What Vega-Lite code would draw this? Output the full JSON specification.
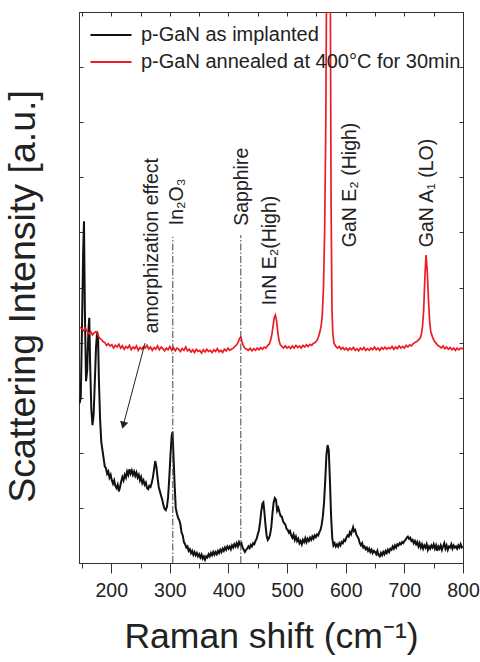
{
  "$schema": "https://vega.github.io/schema/vega-lite/v6.json",
  "width": 384,
  "height": 551,
  "autosize": {"type": "none"},
  "padding": {"left": 79, "top": 12, "right": 17, "bottom": 99},
  "background": "white",
  "config": {
    "font": "Liberation Sans",
    "view": {"stroke": "#333333", "strokeWidth": 1},
    "axis": {"grid": false, "domainColor": "#333333", "tickColor": "#333333", "labelColor": "#222222", "titleColor": "#222222", "labelFont": "Liberation Sans", "titleFont": "Liberation Sans", "titleFontWeight": "normal"}
  },
  "datasets": {
    "black": [
      {"x":146,"y":2.9},{"x":148,"y":3.0},{"x":150,"y":4.2},{"x":152,"y":5.6},{"x":153.5,"y":6.2},{"x":155,"y":4.6},{"x":157,"y":3.3},{"x":159,"y":3.5},{"x":161,"y":4.2},{"x":162.5,"y":4.45},{"x":164,"y":3.6},{"x":166,"y":2.8},{"x":168,"y":2.5},{"x":170,"y":2.7},{"x":172,"y":3.3},{"x":174,"y":3.9},{"x":176,"y":4.2},{"x":177.5,"y":4.1},{"x":179,"y":3.3},{"x":181,"y":2.6},{"x":183,"y":2.2},{"x":185,"y":2.05},{"x":187,"y":1.9},{"x":189,"y":1.75},{"x":191,"y":1.72},{"x":193,"y":1.62},{"x":195,"y":1.66},{"x":197,"y":1.55},{"x":199,"y":1.6},{"x":201,"y":1.5},{"x":203,"y":1.44},{"x":205,"y":1.5},{"x":207,"y":1.4},{"x":209,"y":1.36},{"x":211,"y":1.42},{"x":213,"y":1.3},{"x":215,"y":1.38},{"x":217,"y":1.48},{"x":219,"y":1.56},{"x":221,"y":1.5},{"x":223,"y":1.6},{"x":225,"y":1.55},{"x":227,"y":1.66},{"x":229,"y":1.6},{"x":231,"y":1.7},{"x":233,"y":1.62},{"x":235,"y":1.68},{"x":237,"y":1.6},{"x":239,"y":1.66},{"x":241,"y":1.58},{"x":243,"y":1.64},{"x":245,"y":1.55},{"x":247,"y":1.6},{"x":249,"y":1.5},{"x":251,"y":1.56},{"x":253,"y":1.45},{"x":255,"y":1.5},{"x":257,"y":1.42},{"x":259,"y":1.46},{"x":261,"y":1.36},{"x":263,"y":1.34},{"x":265,"y":1.4},{"x":267,"y":1.38},{"x":269,"y":1.45},{"x":271,"y":1.55},{"x":273,"y":1.7},{"x":275,"y":1.85},{"x":277,"y":1.75},{"x":279,"y":1.55},{"x":281,"y":1.38},{"x":283,"y":1.3},{"x":285,"y":1.22},{"x":287,"y":1.15},{"x":289,"y":1.05},{"x":291,"y":0.98},{"x":293,"y":0.96},{"x":295,"y":1.02},{"x":297,"y":1.2},{"x":299,"y":1.55},{"x":301,"y":1.95},{"x":303,"y":2.3},{"x":304.5,"y":2.38},{"x":306,"y":2.0},{"x":308,"y":1.45},{"x":310,"y":1.0},{"x":312,"y":0.9},{"x":314,"y":0.82},{"x":316,"y":0.78},{"x":318,"y":0.7},{"x":320,"y":0.55},{"x":322,"y":0.5},{"x":324,"y":0.38},{"x":326,"y":0.34},{"x":328,"y":0.28},{"x":330,"y":0.3},{"x":332,"y":0.22},{"x":334,"y":0.25},{"x":336,"y":0.18},{"x":338,"y":0.22},{"x":340,"y":0.15},{"x":342,"y":0.2},{"x":344,"y":0.14},{"x":346,"y":0.18},{"x":348,"y":0.12},{"x":350,"y":0.16},{"x":352,"y":0.1},{"x":354,"y":0.15},{"x":356,"y":0.08},{"x":358,"y":0.12},{"x":360,"y":0.06},{"x":362,"y":0.12},{"x":364,"y":0.1},{"x":366,"y":0.16},{"x":368,"y":0.12},{"x":370,"y":0.18},{"x":372,"y":0.14},{"x":374,"y":0.2},{"x":376,"y":0.15},{"x":378,"y":0.2},{"x":380,"y":0.16},{"x":382,"y":0.22},{"x":384,"y":0.18},{"x":386,"y":0.24},{"x":388,"y":0.2},{"x":390,"y":0.26},{"x":392,"y":0.22},{"x":394,"y":0.28},{"x":396,"y":0.24},{"x":398,"y":0.3},{"x":400,"y":0.26},{"x":402,"y":0.3},{"x":404,"y":0.25},{"x":406,"y":0.32},{"x":408,"y":0.28},{"x":410,"y":0.34},{"x":412,"y":0.3},{"x":414,"y":0.36},{"x":416,"y":0.3},{"x":418,"y":0.38},{"x":420,"y":0.33},{"x":422,"y":0.36},{"x":424,"y":0.28},{"x":426,"y":0.24},{"x":428,"y":0.2},{"x":430,"y":0.24},{"x":432,"y":0.26},{"x":434,"y":0.3},{"x":436,"y":0.27},{"x":438,"y":0.33},{"x":440,"y":0.3},{"x":442,"y":0.36},{"x":444,"y":0.34},{"x":446,"y":0.4},{"x":448,"y":0.44},{"x":450,"y":0.52},{"x":452,"y":0.6},{"x":454,"y":0.75},{"x":456,"y":0.95},{"x":458,"y":1.08},{"x":459.5,"y":1.1},{"x":461,"y":0.95},{"x":463,"y":0.7},{"x":465,"y":0.5},{"x":467,"y":0.42},{"x":469,"y":0.45},{"x":471,"y":0.52},{"x":473,"y":0.65},{"x":475,"y":0.9},{"x":477,"y":1.1},{"x":479,"y":1.18},{"x":481,"y":1.15},{"x":483,"y":0.95},{"x":485,"y":1.0},{"x":487,"y":0.92},{"x":489,"y":0.85},{"x":491,"y":0.84},{"x":493,"y":0.76},{"x":495,"y":0.72},{"x":497,"y":0.7},{"x":499,"y":0.62},{"x":501,"y":0.6},{"x":503,"y":0.55},{"x":505,"y":0.58},{"x":507,"y":0.5},{"x":509,"y":0.46},{"x":511,"y":0.52},{"x":513,"y":0.42},{"x":515,"y":0.48},{"x":517,"y":0.4},{"x":519,"y":0.44},{"x":521,"y":0.36},{"x":523,"y":0.4},{"x":525,"y":0.34},{"x":527,"y":0.42},{"x":529,"y":0.38},{"x":531,"y":0.45},{"x":533,"y":0.38},{"x":535,"y":0.44},{"x":537,"y":0.4},{"x":539,"y":0.46},{"x":541,"y":0.42},{"x":543,"y":0.48},{"x":545,"y":0.44},{"x":547,"y":0.5},{"x":549,"y":0.47},{"x":551,"y":0.52},{"x":553,"y":0.5},{"x":555,"y":0.56},{"x":557,"y":0.6},{"x":559,"y":0.7},{"x":561,"y":0.85},{"x":563,"y":1.1},{"x":565,"y":1.5},{"x":567,"y":1.95},{"x":569,"y":2.14},{"x":571,"y":2.05},{"x":573,"y":1.5},{"x":575,"y":0.85},{"x":577,"y":0.45},{"x":579,"y":0.32},{"x":581,"y":0.36},{"x":583,"y":0.3},{"x":585,"y":0.34},{"x":587,"y":0.3},{"x":589,"y":0.36},{"x":591,"y":0.32},{"x":593,"y":0.38},{"x":595,"y":0.36},{"x":597,"y":0.42},{"x":599,"y":0.4},{"x":601,"y":0.46},{"x":603,"y":0.5},{"x":605,"y":0.48},{"x":607,"y":0.56},{"x":609,"y":0.52},{"x":611,"y":0.6},{"x":612.5,"y":0.65},{"x":614,"y":0.58},{"x":616,"y":0.6},{"x":618,"y":0.52},{"x":620,"y":0.48},{"x":622,"y":0.44},{"x":624,"y":0.36},{"x":626,"y":0.32},{"x":628,"y":0.36},{"x":630,"y":0.28},{"x":632,"y":0.3},{"x":634,"y":0.25},{"x":636,"y":0.28},{"x":638,"y":0.22},{"x":640,"y":0.26},{"x":642,"y":0.2},{"x":644,"y":0.24},{"x":646,"y":0.18},{"x":648,"y":0.22},{"x":650,"y":0.2},{"x":652,"y":0.16},{"x":654,"y":0.22},{"x":656,"y":0.14},{"x":658,"y":0.12},{"x":660,"y":0.18},{"x":662,"y":0.14},{"x":664,"y":0.2},{"x":666,"y":0.16},{"x":668,"y":0.22},{"x":670,"y":0.18},{"x":672,"y":0.24},{"x":674,"y":0.2},{"x":676,"y":0.26},{"x":678,"y":0.24},{"x":680,"y":0.3},{"x":682,"y":0.26},{"x":684,"y":0.32},{"x":686,"y":0.28},{"x":688,"y":0.34},{"x":690,"y":0.32},{"x":692,"y":0.36},{"x":694,"y":0.34},{"x":696,"y":0.38},{"x":698,"y":0.36},{"x":700,"y":0.4},{"x":702,"y":0.42},{"x":704,"y":0.46},{"x":706,"y":0.48},{"x":708,"y":0.44},{"x":710,"y":0.46},{"x":712,"y":0.4},{"x":714,"y":0.42},{"x":716,"y":0.36},{"x":718,"y":0.4},{"x":720,"y":0.34},{"x":722,"y":0.38},{"x":724,"y":0.3},{"x":726,"y":0.36},{"x":728,"y":0.28},{"x":730,"y":0.34},{"x":732,"y":0.26},{"x":734,"y":0.32},{"x":736,"y":0.28},{"x":738,"y":0.34},{"x":740,"y":0.24},{"x":742,"y":0.3},{"x":744,"y":0.26},{"x":746,"y":0.32},{"x":748,"y":0.28},{"x":750,"y":0.34},{"x":752,"y":0.26},{"x":754,"y":0.32},{"x":756,"y":0.22},{"x":758,"y":0.3},{"x":760,"y":0.26},{"x":762,"y":0.32},{"x":764,"y":0.24},{"x":766,"y":0.3},{"x":768,"y":0.36},{"x":770,"y":0.26},{"x":772,"y":0.32},{"x":774,"y":0.24},{"x":776,"y":0.3},{"x":778,"y":0.28},{"x":780,"y":0.34},{"x":782,"y":0.26},{"x":784,"y":0.32},{"x":786,"y":0.28},{"x":788,"y":0.3},{"x":790,"y":0.26},{"x":792,"y":0.32},{"x":794,"y":0.28},{"x":796,"y":0.34},{"x":798,"y":0.28},{"x":800,"y":0.3}
    ],
    "red": [
      {"x":147,"y":4.28},{"x":150,"y":4.25},{"x":153,"y":4.22},{"x":156,"y":4.26},{"x":159,"y":4.2},{"x":162,"y":4.16},{"x":165,"y":4.2},{"x":168,"y":4.14},{"x":171,"y":4.18},{"x":174,"y":4.2},{"x":177,"y":4.15},{"x":180,"y":4.08},{"x":183,"y":4.06},{"x":186,"y":4.02},{"x":189,"y":4.0},{"x":192,"y":3.95},{"x":195,"y":3.98},{"x":198,"y":3.94},{"x":201,"y":3.96},{"x":204,"y":3.9},{"x":207,"y":3.95},{"x":210,"y":3.92},{"x":213,"y":3.97},{"x":216,"y":3.9},{"x":219,"y":3.94},{"x":222,"y":3.88},{"x":225,"y":3.93},{"x":228,"y":3.9},{"x":231,"y":3.95},{"x":234,"y":3.87},{"x":237,"y":3.92},{"x":240,"y":3.89},{"x":243,"y":3.94},{"x":246,"y":3.86},{"x":249,"y":3.91},{"x":252,"y":3.88},{"x":255,"y":3.93},{"x":258,"y":3.9},{"x":261,"y":3.95},{"x":264,"y":3.88},{"x":267,"y":3.92},{"x":270,"y":3.86},{"x":273,"y":3.91},{"x":276,"y":3.88},{"x":279,"y":3.94},{"x":282,"y":3.87},{"x":285,"y":3.92},{"x":288,"y":3.89},{"x":291,"y":3.85},{"x":294,"y":3.9},{"x":297,"y":3.87},{"x":300,"y":3.93},{"x":303,"y":3.86},{"x":306,"y":3.91},{"x":309,"y":3.85},{"x":312,"y":3.9},{"x":315,"y":3.88},{"x":318,"y":3.84},{"x":321,"y":3.89},{"x":324,"y":3.86},{"x":327,"y":3.92},{"x":330,"y":3.85},{"x":333,"y":3.88},{"x":336,"y":3.83},{"x":339,"y":3.87},{"x":342,"y":3.82},{"x":345,"y":3.88},{"x":348,"y":3.84},{"x":351,"y":3.86},{"x":354,"y":3.81},{"x":357,"y":3.87},{"x":360,"y":3.83},{"x":363,"y":3.88},{"x":366,"y":3.84},{"x":369,"y":3.86},{"x":372,"y":3.82},{"x":375,"y":3.87},{"x":378,"y":3.84},{"x":381,"y":3.89},{"x":384,"y":3.83},{"x":387,"y":3.86},{"x":390,"y":3.82},{"x":393,"y":3.88},{"x":396,"y":3.85},{"x":399,"y":3.9},{"x":402,"y":3.86},{"x":405,"y":3.88},{"x":408,"y":3.9},{"x":411,"y":3.93},{"x":414,"y":3.96},{"x":417,"y":4.02},{"x":419,"y":4.08},{"x":421,"y":4.1},{"x":423,"y":4.02},{"x":425,"y":3.95},{"x":428,"y":3.9},{"x":431,"y":3.88},{"x":434,"y":3.86},{"x":437,"y":3.9},{"x":440,"y":3.85},{"x":443,"y":3.89},{"x":446,"y":3.86},{"x":449,"y":3.9},{"x":452,"y":3.87},{"x":455,"y":3.91},{"x":458,"y":3.88},{"x":461,"y":3.92},{"x":464,"y":3.9},{"x":467,"y":3.95},{"x":470,"y":3.98},{"x":472,"y":4.05},{"x":474,"y":4.15},{"x":476,"y":4.3},{"x":478,"y":4.45},{"x":480,"y":4.5},{"x":482,"y":4.4},{"x":484,"y":4.2},{"x":486,"y":4.05},{"x":488,"y":3.97},{"x":491,"y":3.93},{"x":494,"y":3.9},{"x":497,"y":3.94},{"x":500,"y":3.9},{"x":503,"y":3.93},{"x":506,"y":3.89},{"x":509,"y":3.94},{"x":512,"y":3.9},{"x":515,"y":3.95},{"x":518,"y":3.91},{"x":521,"y":3.94},{"x":524,"y":3.9},{"x":527,"y":3.95},{"x":530,"y":3.92},{"x":533,"y":3.96},{"x":536,"y":3.93},{"x":539,"y":3.97},{"x":542,"y":3.95},{"x":545,"y":3.99},{"x":548,"y":4.0},{"x":550,"y":4.03},{"x":552,"y":4.06},{"x":554,"y":4.12},{"x":556,"y":4.2},{"x":558,"y":4.3},{"x":560,"y":4.5},{"x":562,"y":5.0},{"x":564,"y":6.0},{"x":566,"y":8.0},{"x":567.5,"y":11},{"x":569,"y":15},{"x":570.5,"y":16},{"x":572,"y":15},{"x":573.5,"y":11},{"x":575,"y":6.5},{"x":576.5,"y":4.6},{"x":578,"y":4.15},{"x":580,"y":3.99},{"x":583,"y":3.93},{"x":586,"y":3.9},{"x":589,"y":3.93},{"x":592,"y":3.88},{"x":595,"y":3.91},{"x":598,"y":3.87},{"x":601,"y":3.9},{"x":604,"y":3.86},{"x":607,"y":3.9},{"x":610,"y":3.87},{"x":613,"y":3.91},{"x":616,"y":3.86},{"x":619,"y":3.89},{"x":622,"y":3.85},{"x":625,"y":3.9},{"x":628,"y":3.87},{"x":631,"y":3.91},{"x":634,"y":3.86},{"x":637,"y":3.89},{"x":640,"y":3.86},{"x":643,"y":3.9},{"x":646,"y":3.87},{"x":649,"y":3.92},{"x":652,"y":3.87},{"x":655,"y":3.9},{"x":658,"y":3.86},{"x":661,"y":3.91},{"x":664,"y":3.88},{"x":667,"y":3.92},{"x":670,"y":3.88},{"x":673,"y":3.91},{"x":676,"y":3.89},{"x":679,"y":3.93},{"x":682,"y":3.88},{"x":685,"y":3.92},{"x":688,"y":3.89},{"x":691,"y":3.94},{"x":694,"y":3.9},{"x":697,"y":3.93},{"x":700,"y":3.9},{"x":703,"y":3.95},{"x":706,"y":3.92},{"x":709,"y":3.96},{"x":712,"y":3.94},{"x":715,"y":3.98},{"x":718,"y":4.0},{"x":721,"y":4.02},{"x":724,"y":4.05},{"x":727,"y":4.08},{"x":729,"y":4.15},{"x":731,"y":4.3},{"x":733,"y":4.6},{"x":735,"y":5.2},{"x":737,"y":5.59},{"x":739,"y":5.3},{"x":741,"y":4.8},{"x":743,"y":4.4},{"x":745,"y":4.2},{"x":748,"y":4.1},{"x":751,"y":4.03},{"x":754,"y":3.99},{"x":757,"y":3.95},{"x":760,"y":3.93},{"x":763,"y":3.9},{"x":766,"y":3.94},{"x":769,"y":3.89},{"x":772,"y":3.92},{"x":775,"y":3.88},{"x":778,"y":3.91},{"x":781,"y":3.87},{"x":784,"y":3.9},{"x":787,"y":3.86},{"x":790,"y":3.9},{"x":793,"y":3.87},{"x":796,"y":3.9},{"x":800,"y":3.89}
    ],
    "refs": [
      {"x": 305, "y": 0, "y2": 5.92},
      {"x": 421, "y": 0, "y2": 5.95}
    ],
    "labels": [
      {"x": 269, "y": 4.17, "t": "amorphization effect"},
      {"x": 312, "y": 6.13, "t": "In₂O₃"},
      {"x": 423, "y": 6.12, "t": "Sapphire"},
      {"x": 471, "y": 4.68, "t": "InN  E₂(High)"},
      {"x": 607, "y": 5.73, "t": "GaN E₂ (High)"},
      {"x": 739, "y": 5.73, "t": "GaN A₁ (LO)"}
    ],
    "arrow": [
      {"x": 257.6, "y": 3.99, "x2": 220.5, "y2": 2.5}
    ]
  },
  "layer": [
    {
      "data": {"name": "black"},
      "mark": {"type": "line", "strokeWidth": 2, "clip": true},
      "encoding": {
        "x": {"field": "x", "type": "quantitative",
          "scale": {"domain": [145, 800], "nice": false, "zero": false},
          "axis": {"orient": "bottom", "title": "Raman shift (cm⁻¹)", "titleFontSize": 35.5, "titlePadding": 20,
            "values": [150,200,250,300,350,400,450,500,550,600,650,700,750,800],
            "labelExpr": "datum.value % 100 === 0 ? datum.label : ''",
            "labelFontSize": 19.5, "labelPadding": 8, "labelFlush": false,
            "tickSize": {"condition": {"test": "datum.value % 100 === 0", "value": 10}, "value": 5}}},
        "y": {"field": "y", "type": "quantitative",
          "scale": {"domain": [0, 10], "nice": false, "zero": false},
          "axis": {"orient": "left", "title": "Scattering Intensity [a.u.]", "titleFontSize": 37.5, "titlePadding": 36, "titleY": 284,
            "labels": false, "tickSize": -4, "values": [0,1,2,3,4,5,6,7,8,9,10]}},
        "color": {"datum": "p-GaN as implanted", "type": "nominal",
          "scale": {"domain": ["p-GaN as implanted", "p-GaN annealed at 400°C for 30min"], "range": ["#111111", "#ed1c24"]},
          "legend": {"orient": "none", "legendX": 22, "legendY": 13, "title": null, "padding": 0,
            "symbolType": "M-2.5,0H2.5", "symbolSize": 270, "symbolStrokeWidth": 2,
            "labelFontSize": 20, "labelOffset": 20, "labelColor": "#222222", "rowPadding": 7, "labelLimit": 500}}
      }
    },
    {
      "data": {"name": "red"},
      "mark": {"type": "line", "strokeWidth": 1.7, "clip": true},
      "encoding": {
        "x": {"field": "x", "type": "quantitative", "axis": null},
        "y": {"field": "y", "type": "quantitative", "axis": null},
        "color": {"datum": "p-GaN annealed at 400°C for 30min", "type": "nominal"}
      }
    },
    {
      "data": {"name": "refs"},
      "mark": {"type": "rule", "color": "#444444", "strokeWidth": 1, "strokeDash": [7, 2, 1.5, 2]},
      "encoding": {
        "x": {"field": "x", "type": "quantitative",
          "axis": {"orient": "top", "title": null, "labels": false, "domain": false, "tickSize": -4,
            "values": [150,200,250,300,350,400,450,500,550,600,650,700,750,800]}},
        "y": {"field": "y", "type": "quantitative",
          "axis": {"orient": "right", "title": null, "labels": false, "domain": false, "tickSize": -4,
            "values": [0,1,2,3,4,5,6,7,8,9,10]}},
        "y2": {"field": "y2"}
      }
    },
    {
      "data": {"name": "labels"},
      "mark": {"type": "text", "angle": 270, "align": "left", "baseline": "middle", "fontSize": 19.5, "color": "#222222"},
      "encoding": {
        "x": {"field": "x", "type": "quantitative", "axis": null},
        "y": {"field": "y", "type": "quantitative", "axis": null},
        "text": {"field": "t"}
      }
    },
    {
      "data": {"name": "arrow"},
      "mark": {"type": "rule", "color": "#222222", "strokeWidth": 1},
      "encoding": {
        "x": {"field": "x", "type": "quantitative", "axis": null},
        "y": {"field": "y", "type": "quantitative", "axis": null},
        "x2": {"field": "x2"},
        "y2": {"field": "y2"}
      }
    },
    {
      "data": {"name": "arrow"},
      "mark": {"type": "point", "shape": "triangle-up", "filled": true, "color": "#222222", "size": 70, "angle": 195, "opacity": 1},
      "encoding": {
        "x": {"field": "x2", "type": "quantitative", "axis": null},
        "y": {"field": "y2", "type": "quantitative", "axis": null}
      }
    }
  ],
  "resolve": {"axis": {"x": "independent", "y": "independent"}}
}
